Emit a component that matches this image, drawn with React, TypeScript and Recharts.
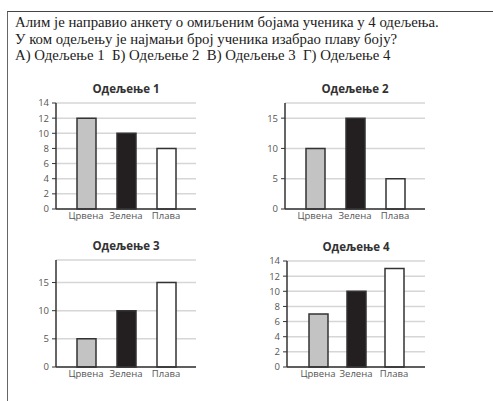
import { BarChart, Bar, XAxis, YAxis, CartesianGrid, Cell } from "recharts";

const categories = ["Црвена", "Зелена", "Плава"];
const class1 = [12, 10, 8];
const class2 = [10, 15, 5];
const class3 = [5, 10, 15];
const class4 = [7, 10, 13];
const ticks14 = [0, 2, 4, 6, 8, 10, 12, 14];
const ticks15 = [0, 5, 10, 15];
const barFills = ["#c3c3c3", "#231f20", "#ffffff"];

const questionLines = [
    "Алим је направио анкету о омиљеним бојама ученика у 4 одељења.",
    "У ком одељењу је најмањи број ученика изабрао плаву боју?",
    "А) Одељење 1  Б) Одељење 2  В) Одељење 3  Г) Одељење 4",
];

interface ClassChartProps {
    title: string;
    values: number[];
    domain: [number, number];
    ticks: number[];
    left: number;
    top: number;
    plotW: number;
    plotH: number;
    pad: number;
}

function ClassChart({ title, values, domain, ticks, left, top, plotW, plotH, pad }: ClassChartProps) {
    const data = categories.map((name, i) => ({ name, value: values[i] }));
    const yW = 36;
    const mTop = 8;
    const xH = 24;
    const axisStyle = { stroke: "#333", strokeWidth: 1.5 };
    const tickStyle = { fontSize: 9.5, fill: "#555", fontFamily: "'Open Sans', sans-serif" };

    return (
        <>
            <div
                style={{
                    position: "absolute",
                    left,
                    top: top - 22,
                    width: plotW,
                    textAlign: "center",
                    fontFamily: "'Open Sans', sans-serif",
                    fontWeight: 700,
                    fontSize: 11.5,
                    color: "#333",
                    lineHeight: "16px",
                }}
            >
                {title}
            </div>
            <div style={{ position: "absolute", left: left - yW, top: top - mTop }}>
                <BarChart
                    width={yW + plotW + 4}
                    height={mTop + plotH + xH}
                    data={data}
                    margin={{ top: mTop, right: 4, left: 0, bottom: 0 }}
                >
                    <CartesianGrid vertical={false} stroke="#d6d6d6" strokeWidth={1.5} />
                    <XAxis
                        dataKey="name"
                        interval={0}
                        padding={{ left: pad, right: pad }}
                        tickLine={false}
                        tickSize={0}
                        tickMargin={3}
                        height={xH}
                        axisLine={axisStyle}
                        tick={tickStyle}
                    />
                    <XAxis
                        xAxisId="top"
                        orientation="top"
                        dataKey="name"
                        height={0}
                        tick={false}
                        tickLine={false}
                        axisLine={axisStyle}
                    />
                    <YAxis
                        domain={domain}
                        ticks={ticks}
                        interval={0}
                        width={yW}
                        tickSize={4}
                        tickMargin={3}
                        tickLine={{ stroke: "#333" }}
                        axisLine={axisStyle}
                        tick={tickStyle}
                    />
                    <YAxis
                        yAxisId="right"
                        orientation="right"
                        width={0}
                        tick={false}
                        tickLine={false}
                        axisLine={axisStyle}
                    />
                    <Bar dataKey="value" barSize={19} stroke="#333" strokeWidth={1.5} isAnimationActive={false}>
                        {data.map((d, i) => (
                            <Cell key={d.name} fill={barFills[i]} />
                        ))}
                    </Bar>
                </BarChart>
            </div>
        </>
    );
}

export default function App() {
    return (
        <div
            style={{
                position: "absolute",
                left: 0,
                top: 0,
                width: 493,
                height: 401,
                overflow: "hidden",
                background: "#fff",
            }}
        >
            <div
                style={{
                    position: "absolute",
                    left: 7,
                    top: 11,
                    width: 520,
                    height: 420,
                    borderLeft: "1.5px solid #666",
                    borderTop: "1.5px solid #444",
                }}
            />
            <div
                style={{
                    position: "absolute",
                    left: 15,
                    top: 14,
                    fontFamily: "'Liberation Serif', serif",
                    fontSize: 14.8,
                    lineHeight: "16.5px",
                    color: "#222",
                    whiteSpace: "pre",
                }}
            >
                {questionLines.map((l) => (
                    <div key={l}>{l}</div>
                ))}
            </div>
            <ClassChart title="Одељење 1" values={class1} domain={[0, 14]} ticks={ticks14} left={56} top={103} plotW={140} plotH={106} pad={10} />
            <ClassChart title="Одељење 2" values={class2} domain={[0, 17.5]} ticks={ticks15} left={285} top={103} plotW={140} plotH={106} pad={10} />
            <ClassChart title="Одељење 3" values={class3} domain={[0, 19]} ticks={ticks15} left={56} top={260} plotW={140} plotH={107} pad={10} />
            <ClassChart title="Одељење 4" values={class4} domain={[0, 14]} ticks={ticks14} left={287} top={261} plotW={138} plotH={106} pad={12} />
        </div>
    );
}
